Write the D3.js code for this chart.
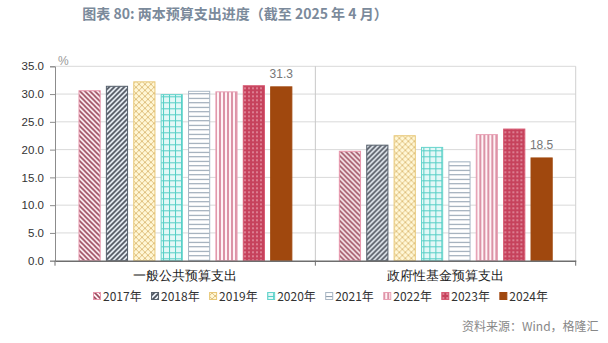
<!DOCTYPE html>
<html><head><meta charset="utf-8">
<script src="https://cdn.jsdelivr.net/npm/d3@7"></script>
<style>
body{margin:0;background:#fff;}
svg{display:block;font-family:"Noto Sans CJK SC","Noto Sans",sans-serif;}
</style></head>
<body><svg id="c" width="608" height="343"></svg>
<script>
const categories = ["一般公共预算支出", "政府性基金预算支出"];
const years = ["2017年","2018年","2019年","2020年","2021年","2022年","2023年","2024年"];
const general = [30.6, 31.4, 32.2, 29.9, 30.5, 30.4, 31.5, 31.3];
const fund    = [19.7, 20.8, 22.5, 20.4, 17.8, 22.7, 23.7, 18.5];
const yTicks = [0,5,10,15,20,25,30,35];
const labelled = {"2024年": true};

const svg = d3.select("#c");
const W = 608, H = 343;
const m = {l:55, r:32.3, t:66.3, b:82.3};
const iw = W - m.l - m.r, ih = H - m.t - m.b;

// patterns
const defs = svg.append("defs");
function pat(id, size, bg, draw){
  const p = defs.append("pattern").attr("id", id).attr("patternUnits","userSpaceOnUse")
    .attr("width", size).attr("height", size);
  p.append("rect").attr("width", size).attr("height", size).attr("fill", bg);
  draw(p);
}
pat("p0", 5, "#fff2f6", p => {
  p.append("path").attr("d","M0,0 L5,5 M-1,4 L1,6 M4,-1 L6,1").attr("stroke","#9a4a5c").attr("stroke-width",1.6);
});
pat("p1", 5, "#eef4fa", p => {
  p.append("path").attr("d","M0,5 L5,0 M-1,1 L1,-1 M4,6 L6,4").attr("stroke","#4a4f5a").attr("stroke-width",1.7);
});
pat("p2", 6, "#fff7d6", p => {
  p.append("path").attr("d","M0,0 L6,6 M0,6 L6,0").attr("stroke","#d8b468").attr("stroke-width",0.8);
});
pat("p3", 6, "#e4f8f7", p => {
  p.append("path").attr("d","M0,0.5 L6,0.5 M0.5,0 L0.5,6").attr("stroke","#56cfc6").attr("stroke-width",1.1);
});
pat("p4", 4.5, "#ffffff", p => {
  p.append("path").attr("d","M0,0.5 L4.5,0.5").attr("stroke","#8a9aaa").attr("stroke-width",1);
});
pat("p5", 4, "#fff3f6", p => {
  p.append("path").attr("d","M1,0 L1,4").attr("stroke","#d27a92").attr("stroke-width",1.6);
});
pat("p6", 4, "#c6425c", p => {
  p.append("circle").attr("cx",2).attr("cy",2).attr("r",0.75).attr("fill","#ffd8e0");
});
const fills = ["url(#p0)","url(#p1)","url(#p2)","url(#p3)","url(#p4)","url(#p5)","url(#p6)","#a0480e"];
const strokes = ["#e896ac","#56606c","#e8c878","#66d4cc","#a8b6c4","#e8a0b4","#d65a72","#a0480e"];

// title
svg.append("text").attr("x", 235).attr("y", 19).attr("text-anchor","middle")
  .attr("font-size", 14).attr("font-weight","bold").attr("fill","#7b8a9b")
  .text("图表 80: 两本预算支出进度（截至 2025 年 4 月）");

const g = svg.append("g").attr("transform", `translate(${m.l},${m.t})`);
const y = d3.scaleLinear().domain([0,35]).range([ih,0]);
const x0 = d3.scaleBand().domain(categories).range([0, iw]).padding(0);
const x1 = d3.scaleBand().domain(years).range([23.5, x0.bandwidth()-23]).paddingInner(0.19).paddingOuter(0);

// gridlines
g.append("g").selectAll("line").data(yTicks.filter(d=>d>0)).join("line")
  .attr("x1",0).attr("x2",iw).attr("y1",d=>y(d)).attr("y2",d=>y(d))
  .attr("stroke","#d9d9d9").attr("stroke-width",1);
// right border & divider
g.append("line").attr("x1",iw).attr("x2",iw).attr("y1",0).attr("y2",ih).attr("stroke","#d0d0d0");
g.append("line").attr("x1",x0.bandwidth()).attr("x2",x0.bandwidth()).attr("y1",0).attr("y2",ih).attr("stroke","#c8c8c8");

// y axis
const ya = g.append("g").call(d3.axisLeft(y).tickValues(yTicks).tickFormat(d3.format(".1f")).tickSize(5).tickPadding(6));
ya.select(".domain").attr("stroke","#8c8c8c");
ya.selectAll(".tick line").attr("stroke","#8c8c8c");
ya.selectAll("text").attr("font-family","'Liberation Sans',sans-serif").attr("font-size",11.5).attr("fill","#333");

g.append("text").attr("x", 3).attr("y", -1).attr("font-size", 12).attr("fill","#999")
  .attr("font-family","'Liberation Sans',sans-serif").text("%");

// bars
const series = [general, fund];
categories.forEach((c, ci) => {
  const gg = g.append("g").attr("transform", `translate(${x0(c)},0)`);
  gg.selectAll("rect").data(years.map((yr,i)=>({yr, v: series[ci][i], i}))).join("rect")
    .attr("x", d=>x1(d.yr)+0.5).attr("y", d=>y(d.v))
    .attr("width", x1.bandwidth()-1).attr("height", d=>ih - y(d.v))
    .attr("fill", d=>fills[d.i]).attr("stroke", d=>strokes[d.i]).attr("stroke-width",1);
  gg.selectAll("text.lab").data(years.map((yr,i)=>({yr, v: series[ci][i]})).filter(d=>labelled[d.yr]))
    .join("text").attr("class","lab")
    .attr("x", d=>x1(d.yr)+x1.bandwidth()/2).attr("y", d=>y(d.v)-9)
    .attr("text-anchor","middle").attr("font-size",12).attr("fill","#777")
    .attr("font-family","'Liberation Sans',sans-serif")
    .text(d=>d.v.toFixed(1));
});

// x axis
const xa = g.append("g").attr("transform", `translate(0,${ih})`)
  .call(d3.axisBottom(x0).tickSize(0).tickPadding(10));
xa.select(".domain").attr("stroke","#6e6e6e").attr("stroke-width",1.5);
xa.selectAll("text").attr("font-size",13).attr("fill","#222");
// category boundary ticks
g.append("g").selectAll("line").data([0, x0.bandwidth(), iw]).join("line")
  .attr("x1",d=>d).attr("x2",d=>d).attr("y1",ih).attr("y2",ih+5).attr("stroke","#6e6e6e");

// legend
const lg = svg.append("g").attr("transform","translate(93,296)");
const li = lg.selectAll("g").data(years).join("g").attr("transform",(d,i)=>`translate(${i*58.05},0)`);
li.append("rect").attr("x",0.5).attr("y",-3.5).attr("width",7).attr("height",7)
  .attr("fill",(d,i)=>fills[i]).attr("stroke",(d,i)=>strokes[i]).attr("stroke-width",1);
li.append("text").attr("x",10).attr("y",4.5).attr("font-size",12).attr("fill","#333").text(d=>d);

// source
svg.append("text").attr("x", 462).attr("y", 331).attr("font-size",12).attr("fill","#888").text("资料来源：Wind，格隆汇");
</script></body></html>
